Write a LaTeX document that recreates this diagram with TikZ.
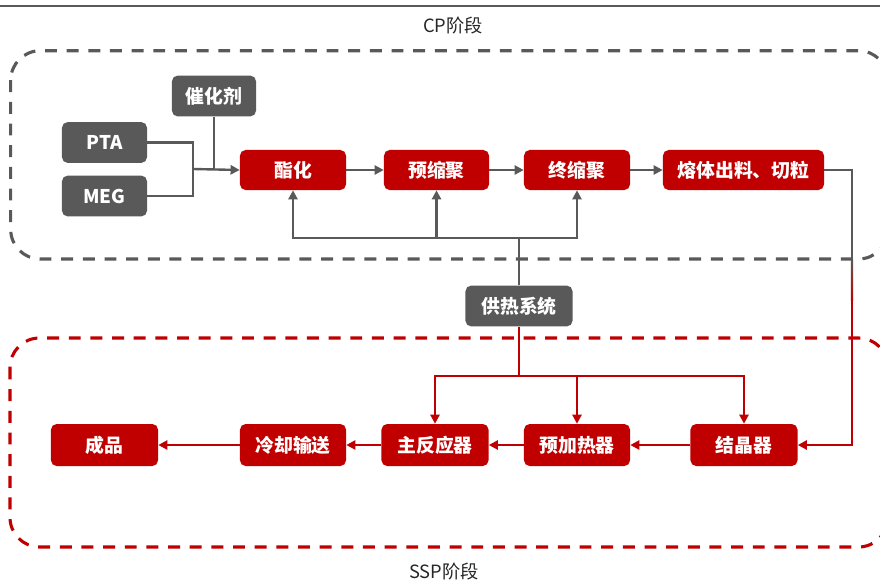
\documentclass[tikz,border=0pt]{standalone}
\usepackage{fontspec}
\setmainfont{Noto Sans CJK SC}
\usepackage{xcolor}
\usepackage{tikz}
\usetikzlibrary{arrows.meta,calc}
\definecolor{procgray}{HTML}{595959}
\definecolor{procred}{HTML}{C00000}
\definecolor{labeltxt}{HTML}{262626}

\begin{document}
\begin{tikzpicture}[
  x=0.025cm,y=-0.025cm,
  font=\fontsize{13.4}{15}\selectfont\bfseries,
  graybox/.style={fill=procgray,text=white,rounded corners=4pt,
               align=center,minimum height=1.02cm,inner sep=2pt},
  redbox/.style={fill=procred,text=white,rounded corners=4pt,
               align=center,minimum height=1.0cm,inner sep=2pt},
  gline/.style={line width=1.7pt,draw=procgray},
  rline/.style={line width=1.7pt,draw=procred},
  garr/.style={gline,-{Triangle[length=6.5pt,width=6.5pt]}},
  rarr/.style={rline,-{Triangle[length=6.5pt,width=6.5pt]}},
  cpframe/.style={draw=procgray,line width=2.2pt,dash pattern=on 8.5pt off 6.9pt,
               rounded corners=21pt},
  sspframe/.style={draw=procred,line width=2.2pt,dash pattern=on 8.5pt off 6.9pt,
               rounded corners=21pt},
  stagelabel/.style={font=\fontsize{13}{15}\selectfont,text=labeltxt}
]
\useasboundingbox (0,0) rectangle (880,580);
\clip (0,0) rectangle (880,580);

\draw[procgray,line width=2pt] (0,6) -- (880,6);
\draw[cpframe] (10.7,50.7) rectangle (888,259);
\draw[sspframe] (10,338) rectangle (888,547);
\node[stagelabel] (cplbl) at (453,25.5) {CP阶段};
\node[stagelabel] (ssplbl) at (444,571.5) {SSP阶段};

\node[graybox,minimum width=2.1cm] (cat) at (214,96) {催化剂};
\node[graybox,minimum width=2.125cm] (pta) at (104.5,142.5) {PTA};
\node[graybox,minimum width=2.125cm] (meg) at (104.5,196) {MEG};
\node[redbox,minimum width=2.65cm] (ester) at (293,170) {酯化};
\node[redbox,minimum width=2.625cm] (precond) at (436.5,170) {预缩聚};
\node[redbox,minimum width=2.65cm] (finalcond) at (577,170) {终缩聚};
\node[redbox,minimum width=4.025cm] (melt) at (743.5,170) {熔体出料、切粒};
\node[graybox,minimum width=2.675cm] (heat) at (519,306) {供热系统};

\node[redbox,minimum width=2.675cm,minimum height=1.05cm] (cryst) at (744,445) {结晶器};
\node[redbox,minimum width=2.65cm,minimum height=1.05cm] (preheat) at (577,445) {预加热器};
\node[redbox,minimum width=2.675cm,minimum height=1.05cm] (reactor) at (435,445) {主反应器};
\node[redbox,minimum width=2.65cm,minimum height=1.05cm] (cool) at (293,445) {冷却输送};
\node[redbox,minimum width=2.675cm,minimum height=1.05cm] (product) at (104.5,445) {成品};

\coordinate (merge) at (193,169);
\draw[gline] (pta.east) -| (merge) |- (meg.east);
\draw[gline] (cat.south) -- (cat.south |- merge);
\draw[garr] (merge) -- (ester.west);
\draw[garr] (ester.east) -- (precond.west);
\draw[garr] (precond.east) -- (finalcond.west);
\draw[garr] (finalcond.east) -- (melt.west);

\coordinate (cpbus) at (519,238);
\draw[gline] (heat.north) -- (cpbus);
\draw[garr] (cpbus) -| (ester.south);
\draw[garr] (cpbus) -| (finalcond.south);
\draw[garr] (precond.south |- cpbus) -- (precond.south);

\coordinate (sspbus) at (519,376);
\draw[rline] (heat.south) -- (sspbus);
\draw[rarr] (sspbus) -| (reactor.north);
\draw[rarr] (sspbus) -| (cryst.north);
\draw[rarr] (preheat.north |- sspbus) -- (preheat.north);

\coordinate (dropa) at (852,259);
\coordinate (dropb) at (852,300);
\draw[gline] (melt.east) -| (dropa);
\shade[top color=procgray,bottom color=procred] ($(dropa)+(-1.2,0)$) rectangle ($(dropb)+(1.2,0)$);
\draw[rarr] (dropb) |- (cryst.east);

\draw[rarr] (cryst.west) -- (preheat.east);
\draw[rarr] (preheat.west) -- (reactor.east);
\draw[rarr] (reactor.west) -- (cool.east);
\draw[rarr] (cool.west) -- (product.east);
\end{tikzpicture}
\end{document}
